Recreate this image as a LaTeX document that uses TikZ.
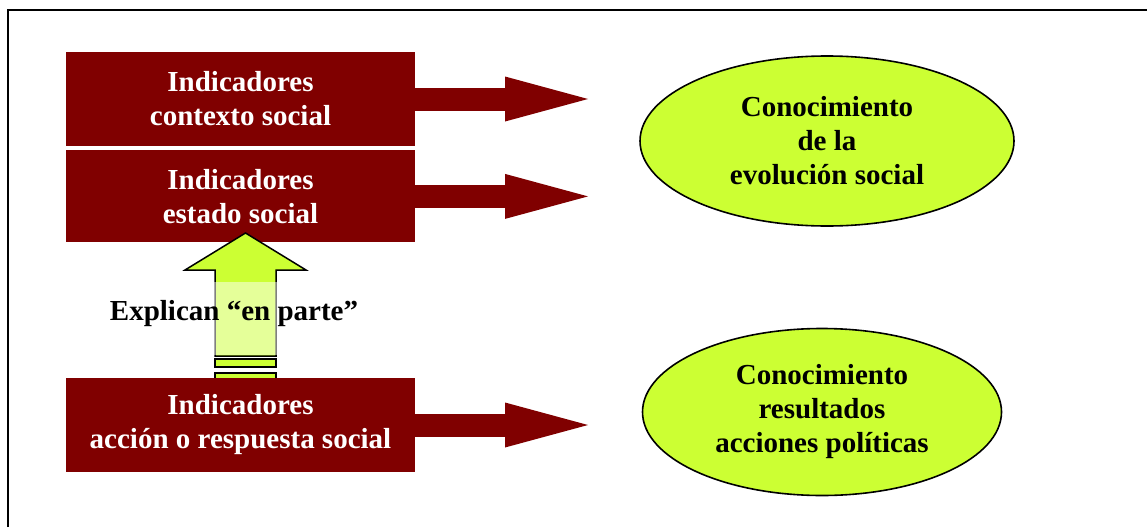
\documentclass[tikz,border=0pt]{standalone}
\usepackage{fontspec}
\setmainfont{Liberation Serif}
\usetikzlibrary{positioning,arrows.meta,shapes.geometric}
\definecolor{cind}{RGB}{128,0,0}
\definecolor{cknow}{RGB}{204,255,51}

\begin{document}
\begin{tikzpicture}[x=1pt,y=-1pt,
  font=\bfseries\fontsize{29}{34}\selectfont,
  ind/.style={rectangle,fill=cind,text=white,minimum width=349pt,minimum height=94pt,inner sep=0,align=center},
  know/.style={ellipse,draw=black,line width=1.6pt,fill=cknow,inner sep=0,align=center},
  fat/.style={cind,line width=23pt,-{Triangle[length=83pt,width=45pt,line width=0pt]}},
  lift/.style={draw=black,line width=1.5pt,fill=cknow,line join=miter},
]
\useasboundingbox (0,0) rectangle (1147,527);
% Frame
\draw[line width=2pt] (8,527) -- (8,10) -- (1147,10);

% Indicators
\node[ind] (ctx) at (240.5,99) {Indicadores\\contexto social};
\node[ind,minimum height=92pt,below=4pt of ctx] (est) {Indicadores\\estado social};

% Knowledge
\node[know,minimum width=374pt,minimum height=170pt] (evo) at (827,141) {Conocimiento\\de la\\evoluci\'on social};
\node[know,minimum width=359pt,minimum height=167pt] (res) at (822,412) {Conocimiento\\resultados\\acciones pol\'iticas};

% Explain "in part"
\draw[lift] (215,356) -- (215,270) -- (185,270) -- (245.5,233) -- (306,270) -- (276,270) -- (276,356) -- cycle;
\draw[lift] (215,359) rectangle (276,367);
\draw[lift] (215,373) rectangle (276,381);
\node[anchor=base,fill=white,fill opacity=0.5,text opacity=1,inner xsep=2pt,inner ysep=0,
  text height=38pt,text depth=35pt] (expl) at (234,320) {Explican ``en parte''};

\node[ind] (acc) at (240.5,425) {Indicadores\\acci\'on o respuesta social};

% Arrows
\coordinate (tipx) at (588,0);
\draw[fat] (ctx.east) -- (ctx -| tipx);
\draw[fat] (est.east) -- (est -| tipx);
\draw[fat] (acc.east) -- (acc -| tipx);
\end{tikzpicture}
\end{document}
